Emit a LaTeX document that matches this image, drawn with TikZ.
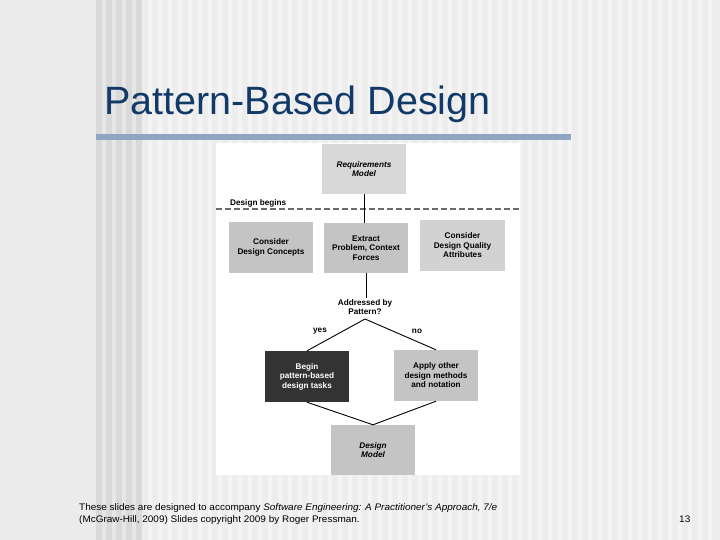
\documentclass[tikz,border=0pt]{standalone}
\usepackage{fontspec}
\setmainfont{Liberation Sans}
\definecolor{bgleft}{HTML}{EBEBEB}
\definecolor{bgmain}{HTML}{EDEDED}
\definecolor{stripedark}{HTML}{D9D9D9}
\definecolor{stripemid}{HTML}{E6E6E6}
\definecolor{stripelight}{HTML}{F4F4F4}
\definecolor{titleblue}{HTML}{123A68}
\definecolor{barblue}{HTML}{8EA6C1}
\definecolor{boxA}{HTML}{D8D8D8}
\definecolor{boxB}{HTML}{C4C4C4}
\definecolor{boxC}{HTML}{D2D2D2}
\definecolor{boxDark}{HTML}{333333}
\definecolor{dashgray}{HTML}{6A6A6A}
\tikzset{
  flowbox/.style={rectangle, minimum width=84pt, minimum height=50pt, inner sep=1pt,
    align=center, font=\fontsize{8.2}{9.5}\selectfont\bfseries},
  lbl/.style={inner sep=1pt, align=center, font=\fontsize{8.2}{9.5}\selectfont\bfseries},
  conn/.style={draw=black, line width=0.9pt},
  foot/.style={anchor=west, inner sep=0pt, xscale=1.05, font=\fontsize{9.5}{10}\selectfont}
}
\begin{document}
\begin{tikzpicture}[x=1pt,y=-1pt]
\useasboundingbox (0,0) rectangle (720,540);
% background
\fill[bgleft] (0,0) rectangle (96,540);
\fill[bgmain] (142,0) rectangle (720,540);
\fill[stripemid] (96,0) rectangle (142,540);
\foreach \x in {96,106,116,126,136} \fill[stripedark] (\x,0) rectangle (\x+6,540);
\foreach \x in {148,158,...,716} \fill[stripelight] (\x,0) rectangle (\x+4,540);
% title
\node[anchor=base west, inner sep=0pt, text=titleblue, font=\fontsize{39.5}{40}\selectfont] (title) at (104,115) {Pattern-Based Design};
\fill[barblue] (96,134) rectangle (571,140.5);
% panel
\fill[white] (216,143) rectangle (520,475);
% dashed line
\draw[dashgray, line width=1.4pt, dash pattern=on 6pt off 3pt] (216,209) -- (520,209);
\node[lbl, anchor=west] (begins) at (229,203) {Design begins};
% boxes
\node[flowbox, fill=boxA] (req) at (364,169) {\itshape Requirements\\\itshape Model};
\node[flowbox, fill=boxB, minimum height=51pt] (concepts) at (271,247.5) {Consider\\Design Concepts};
\node[flowbox, fill=boxB] (extract) at (366,248) {Extract\\Problem, Context\\Forces};
\node[flowbox, fill=boxC, minimum width=85pt, minimum height=51pt] (quality) at (462.5,245.5) {Consider\\Design Quality\\Attributes};
\node[lbl] (addr) at (365,307) {Addressed by\\Pattern?};
\coordinate (apex) at (365,319);
\node[flowbox, fill=boxDark, text=white, minimum height=51pt] (begin) at (307,376.5) {Begin\\pattern-based\\design tasks};
\node[flowbox, fill=boxB, minimum height=51pt] (apply) at (436,375.5) {Apply other\\design methods\\and notation};
\node[flowbox, fill=boxB] (design) at (373,450) {\itshape Design\\\itshape Model};
\node[lbl] (yes) at (320,331) {yes};
\node[lbl] (no) at (417,331) {no};
% connectors
\draw[conn] (req.south) -- (req.south |- extract.north);
\draw[conn] (extract.south) -- (extract.south |- addr.north);
\draw[conn] (begin.north) -- (apex) -- (apply.north);
\draw[conn] (begin.south) -- (design.north) -- (apply.south);
% footer
\node[foot] (f1) at (79,508) {These slides are designed to accompany \textit{Software Engineering: A Practitioner's Approach, 7/e}};
\node[foot] (f2) at (79,520) {(McGraw-Hill, 2009) Slides copyright 2009 by Roger Pressman.};
\node[foot] (pg) at (679,519) {13};
\end{tikzpicture}
\end{document}
